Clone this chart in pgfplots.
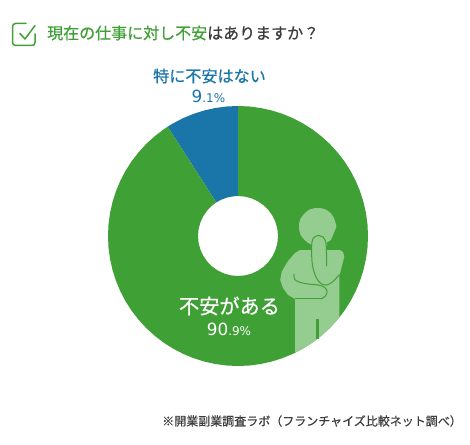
\documentclass[border=0pt]{standalone}
\usepackage{pgfplots}
\pgfplotsset{compat=1.18}
\usepgfplotslibrary{polar}
\usepackage{fontspec}
\setmainfont{Noto Sans CJK JP}
\newfontfamily\jp[FakeBold=0.55]{Noto Sans CJK JP}
\newfontfamily\num{DejaVu Sans}
\definecolor{gr}{HTML}{3FA035}
\definecolor{bl}{HTML}{1A76A8}
\definecolor{lg}{HTML}{95CC8F}
\definecolor{dk}{HTML}{3C3C3C}
\begin{document}
\begin{tikzpicture}[x=1pt,y=1pt]
\useasboundingbox (0,0) rectangle (470,444);
% ring: 90.9 % / 9.1 %, angle from top (9.1 % = 32.76 deg)
\begin{polaraxis}[at={(238pt,208pt)},anchor=center,scale only axis,width=260pt,height=260pt,
  xmin=0,xmax=360,ymin=0,ymax=130,hide axis,clip=false]
\addplot[draw=none,fill=bl] coordinates {(90,130)(95,130)(100,130)(105,130)(110,130)(115,130)(120,130)(122.76,130)
 (122.76,40)(115,40)(105,40)(95,40)(90,40)} --cycle;
\addplot[draw=none,fill=gr] coordinates {(122.76,130)(125,130)(130,130)(135,130)(140,130)(145,130)(150,130)(155,130)(160,130)(165,130)(170,130)(175,130)(180,130)(185,130)(190,130)(195,130)(200,130)(205,130)(210,130)(215,130)(220,130)(225,130)(230,130)(235,130)(240,130)(245,130)(250,130)(255,130)(260,130)(265,130)(270,130)(275,130)(280,130)(285,130)(290,130)(295,130)(300,130)(305,130)(310,130)(315,130)(320,130)(325,130)(330,130)(335,130)(340,130)(345,130)(350,130)(355,130)(360,130)(365,130)(370,130)(375,130)(380,130)(385,130)(390,130)(395,130)(400,130)(405,130)(410,130)(415,130)(420,130)(425,130)(430,130)(435,130)(440,130)(445,130)(450,130)
 (450,40)(440,40)(430,40)(420,40)(410,40)(400,40)(390,40)(380,40)(370,40)(360,40)(350,40)(340,40)(330,40)(320,40)(310,40)(300,40)(290,40)(280,40)(270,40)(260,40)(250,40)(240,40)(230,40)(220,40)(210,40)(200,40)(190,40)(180,40)(170,40)(160,40)(150,40)(140,40)(130,40)(122.76,40)} --cycle;
\end{polaraxis}
\begin{axis}[at={(0pt,0pt)},anchor=south west,scale only axis,width=470pt,height=444pt,
  xmin=0,xmax=470,ymin=0,ymax=444,y dir=reverse,hide axis,clip=false]
% head
\addplot[draw=none,fill=lg,smooth,tension=0.8] coordinates {(336.4,226.7)(331,213.5)(317.7,208)(304.5,213.5)(299,226.7)(304.5,239.9)(317.7,245.4)(331,239.9)} --cycle;
% body
\addplot[draw=none,fill=lg] coordinates {(300,250)(340,250)(343,252)(344.3,256.5)(339.3,276)(339.3,317.5)(332,325.8)(325,332.6)(318,338.5)(310,344.2)(302,349)(295,352.8)(295,299)(288,295)(283,288)(280.2,280)(281.7,271.7)(288,261)(295,253)} --cycle;
% finger
\addplot[draw=none,fill=lg,smooth] coordinates {(311.7,262)(311.7,242)(314,237)(319,235.5)(324,237)(326.7,242)(326.7,262)} --cycle;
% finger and forearm outline
\addplot[gr,line width=1pt,smooth,tension=0.6] coordinates {(326.7,266)(326.4,250)(325.7,242)(323,237)(319,235.5)(314.5,237)(312,242)(311.7,256)(313,268)(316.7,278.3)(321,283.5)(326.7,285)(333,281.5)(339.5,274.5)};
% fold of the arm
\addplot[gr,line width=1pt,smooth,tension=0.6] coordinates {(294,274)(294.5,279)(299,282)(308,284)(318,285)(324,287)(327,291)(325.5,296)(321,298.8)};
\addplot[gr,line width=1pt] coordinates {(321,298.8)(310,298.8)(295,298.8)};
% gap of the legs
\addplot[gr,line width=3.3pt] coordinates {(317.4,318.5)(317.4,339)};
% tick icon
\addplot[gr,line width=1.5pt,line cap=round,rounded corners=3pt] coordinates {(26,23.5)(12.5,23.5)(12.5,45.5)(35,45.5)(35,34)};
\addplot[gr,line width=1.5pt,line cap=round,line join=round] coordinates {(20,33.5)(25,39)(35,25.5)};
% texts
\node[anchor=west,inner sep=0pt,font=\jp\fontsize{16}{16}\selectfont] at (axis cs:47,33) {\textcolor{gr}{現在の仕事に対し不安}\textcolor{dk}{はありますか？}};
\node[inner sep=0pt,text=bl,font=\jp\fontsize{16.1}{16}\selectfont] at (axis cs:209.5,76) {特に不安はない};
\node[inner sep=0pt,text=bl,font=\num] at (axis cs:208.5,96) {\fontsize{16.8}{16}\selectfont 9\fontsize{12}{12}\selectfont .1\%};
\node[inner sep=0pt,text=white,font=\jp\fontsize{20.2}{20}\selectfont] at (axis cs:229.5,306) {不安がある};
\node[inner sep=0pt,text=white,font=\num] at (axis cs:229,329) {\fontsize{16.8}{16}\selectfont 90\fontsize{12}{12}\selectfont .9\%};
\node[anchor=east,inner sep=0pt,text=dk,font=\jp\fontsize{12}{12}\selectfont] at (axis cs:462,421) {※開業副業調査ラボ（フランチャイズ比較ネット調べ）};
\end{axis}
\end{tikzpicture}
\end{document}
